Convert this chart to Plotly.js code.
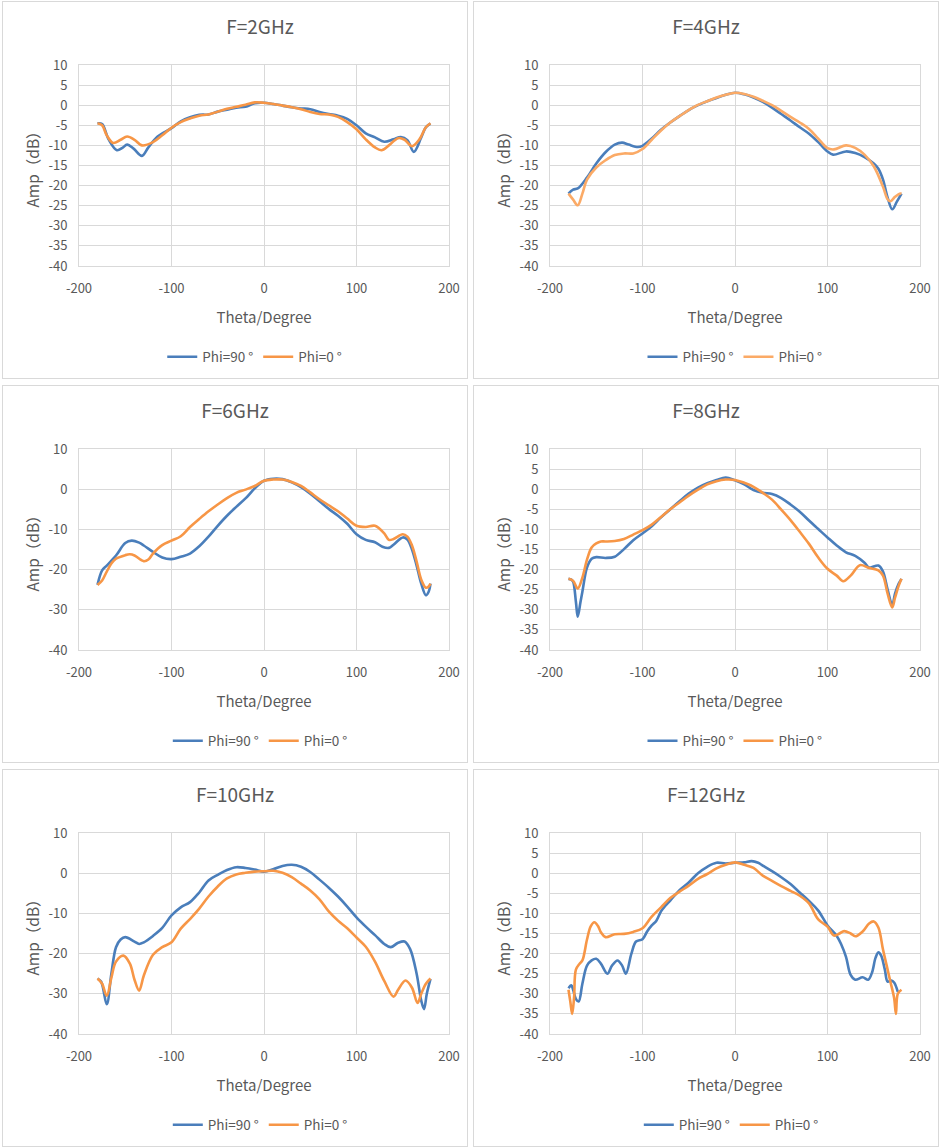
<!DOCTYPE html>
<html>
<head>
<meta charset="utf-8">
<script src="https://cdn.plot.ly/plotly-3.0.1.min.js"></script>
<style>
  body { margin: 0; background: #fff; width: 941px; height: 1148px; position: relative; }
  .panel { position: absolute; width: 466px; height: 378px; box-sizing: border-box; border: 1px solid #d9d9d9; }
</style>
</head>
<body>
<div id="p2" class="panel" style="left:2px;top:1px"></div>
<div id="p4" class="panel" style="left:473px;top:1px"></div>
<div id="p6" class="panel" style="left:2px;top:385px"></div>
<div id="p8" class="panel" style="left:473px;top:385px"></div>
<div id="p10" class="panel" style="left:2px;top:769px"></div>
<div id="p12" class="panel" style="left:473px;top:769px"></div>
<script>
// --- data (theta in degrees, amplitude in dB) ---
var theta2_90 = [-180,-175,-168,-159,-153,-148,-141,-132,-125,-115,-100,-90,-80,-70,-60,-50,-40,-30,-20,-10,0,10,20,30,40,50,60,70,80,90,100,110,120,130,140,148,155,162,170,175,180];
var amp2_90   = [-4.5,-4.7,-8.5,-11.2,-10.6,-9.8,-10.8,-12.6,-10.5,-7.8,-5.7,-4.0,-3.0,-2.4,-2.3,-1.6,-1.1,-0.6,-0.4,0.5,0.6,0.3,-0.1,-0.5,-0.8,-1.0,-1.7,-2.2,-2.6,-3.4,-5.0,-7.0,-8.0,-9.1,-8.5,-7.9,-8.7,-11.6,-8.0,-5.5,-4.6];
var theta2_0  = [-180,-175,-170,-163,-155,-148,-140,-132,-120,-110,-100,-90,-80,-70,-60,-50,-40,-30,-20,-10,0,10,20,30,40,50,60,70,80,90,100,110,120,127,135,145,152,160,168,175,180];
var amp2_0    = [-4.5,-5.0,-7.5,-9.4,-8.6,-7.8,-8.6,-10.0,-9.2,-7.5,-5.6,-4.2,-3.3,-2.6,-2.3,-1.6,-0.9,-0.4,0.1,0.7,0.6,0.3,-0.1,-0.5,-1.0,-1.7,-2.2,-2.3,-2.9,-4.2,-6.0,-8.5,-10.5,-11.2,-10.0,-8.2,-8.6,-10.2,-8.5,-5.5,-4.5];

var theta4_90 = [-180,-175,-170,-160,-150,-140,-130,-122,-115,-105,-100,-90,-80,-70,-60,-50,-40,-30,-20,-10,0,10,20,30,40,50,60,70,80,90,100,106,120,130,140,150,155,160,165,170,175,180];
var amp4_90   = [-22,-21,-20.7,-18,-14.5,-11.7,-9.8,-9.3,-9.8,-10.4,-10.1,-8.3,-6.1,-4.3,-2.7,-1.2,0,1.0,1.8,2.6,3.1,2.7,1.9,0.8,-0.6,-2.2,-3.8,-5.5,-7.1,-9.2,-11.5,-12.3,-11.5,-11.9,-12.9,-14.5,-15.8,-18.5,-23,-25.9,-24,-22];
var theta4_0  = [-180,-175,-170,-165,-160,-150,-140,-130,-120,-110,-100,-90,-80,-70,-60,-50,-40,-30,-20,-10,0,10,20,30,40,50,60,70,80,90,100,107,120,130,140,150,160,165,168,173,178,180];
var amp4_0    = [-22,-23.5,-24.9,-22,-18.5,-15.5,-13.7,-12.4,-12.0,-12.0,-10.9,-8.6,-6.3,-4.3,-2.7,-1.2,0.1,1.0,1.9,2.6,3.1,2.8,2.1,1.1,0,-1.4,-2.9,-4.3,-5.9,-8.3,-10.7,-11,-10,-10.6,-12.3,-15.2,-20.3,-23.4,-23.9,-22.8,-22,-22];

var theta6_90 = [-180,-175,-170,-160,-150,-143,-135,-130,-120,-110,-100,-90,-80,-70,-60,-50,-40,-30,-20,-10,0,10,20,30,40,50,60,70,80,90,100,110,120,128,135,140,150,155,160,165,170,175,178,180];
var amp6_90   = [-23.8,-20.2,-19,-16.5,-13.4,-12.8,-13.3,-14,-15.6,-17,-17.4,-16.8,-16,-14.2,-11.8,-9.1,-6.6,-4.4,-2.3,0.2,2.1,2.6,2.5,1.7,0.5,-1.1,-3,-4.9,-6.6,-8.6,-11.2,-12.6,-13.2,-14.3,-14.6,-13.8,-12,-12.5,-15,-19,-23.5,-26.4,-25.5,-23.5];
var theta6_0  = [-180,-175,-170,-165,-160,-150,-145,-140,-130,-125,-120,-110,-100,-90,-80,-70,-60,-50,-40,-30,-20,-10,0,10,20,30,40,50,60,70,80,90,100,110,120,130,135,140,150,155,160,165,170,175,178,180];
var amp6_0    = [-23.8,-22.7,-20.5,-18.5,-17.3,-16.4,-16.2,-16.5,-17.9,-17.5,-16,-13.9,-12.8,-11.7,-9.4,-7.4,-5.5,-3.8,-2.2,-0.9,-0.1,0.8,2.1,2.4,2.4,1.8,0.8,-0.8,-2.5,-4,-5.5,-7.3,-9.1,-9.4,-9.1,-11,-12.6,-12.4,-11.2,-11.8,-14,-18,-22.5,-24.5,-24.2,-23.5];

var theta8_90 = [-180,-177,-175,-172,-170,-167,-165,-160,-155,-150,-140,-130,-120,-110,-100,-90,-80,-70,-60,-50,-40,-30,-20,-10,0,10,20,30,40,50,60,70,80,90,100,110,120,130,140,145,155,160,165,170,173,177,180];
var amp8_90   = [-22.3,-22.5,-23,-28,-31.7,-28,-25.5,-19.5,-17.3,-16.9,-17.1,-16.8,-14.9,-12.7,-11,-9.2,-7,-5,-3,-1.1,0.4,1.5,2.3,2.9,2.2,1.2,-0.2,-0.9,-1.2,-2.2,-3.8,-5.6,-7.8,-9.9,-12,-14,-15.7,-16.6,-18.3,-19.5,-19,-20.5,-25,-28.8,-26,-23.5,-22.3];
var theta8_0  = [-180,-175,-170,-165,-160,-155,-150,-145,-140,-130,-120,-110,-100,-90,-80,-70,-60,-50,-40,-30,-20,-10,0,10,20,30,40,50,60,70,80,90,100,110,117,125,135,145,155,160,165,170,173,177,180];
var amp8_0    = [-22.3,-22.8,-24.7,-22,-17.5,-14.5,-13.5,-13,-13,-12.9,-12.4,-11.3,-10.2,-8.8,-6.9,-5,-3.3,-1.6,-0.1,1.2,2,2.4,2.3,1.6,0.6,-0.9,-2.6,-5.1,-7.7,-10.6,-13.6,-17,-19.8,-21.5,-22.9,-21.5,-18.9,-19.6,-20.2,-21.5,-26,-29.4,-27,-24,-22.3];

var theta10_90 = [-180,-176,-170,-165,-160,-155,-150,-140,-135,-130,-120,-110,-100,-90,-80,-70,-60,-50,-40,-30,-20,-10,0,10,20,30,40,50,60,70,80,90,100,110,120,130,137,145,152,158,165,170,173,176,180];
var amp10_90   = [-26.2,-27,-32.6,-25,-18.4,-16.5,-15.9,-17,-17.6,-17.2,-15.6,-13.6,-10.5,-8.5,-7.2,-4.8,-1.8,-0.4,0.8,1.5,1.3,0.9,0.4,1,1.8,2.1,1.6,0.3,-1.6,-3.6,-5.8,-8.3,-11,-13.3,-15.4,-17.6,-18.4,-17.3,-17,-18.9,-25,-31.7,-33.8,-30,-26.3];
var theta10_0  = [-180,-175,-170,-165,-160,-152,-145,-140,-135,-130,-120,-110,-100,-90,-80,-70,-60,-50,-40,-30,-20,-10,0,10,20,30,40,50,60,70,80,90,100,110,120,130,140,145,153,160,166,170,175,180];
var amp10_0    = [-26.2,-27.5,-30.5,-26,-22,-20.5,-22.5,-26.5,-29.2,-25.5,-20.3,-18.4,-17.2,-13.8,-11.4,-8.8,-5.8,-3.3,-1.3,-0.3,0.1,0.4,0.5,0.6,0.1,-1,-2.6,-4.3,-6.5,-9.5,-11.8,-13.7,-16,-18.3,-22,-26.8,-30.7,-29,-26.7,-28.5,-32.3,-30,-27.5,-26.2];

var theta12_90 = [-180,-177,-175,-172,-169,-165,-160,-155,-150,-145,-138,-133,-127,-122,-118,-112,-107,-100,-95,-90,-85,-80,-75,-70,-60,-50,-40,-30,-20,-10,0,10,18,25,30,40,50,60,70,80,90,100,110,115,120,125,130,138,144,148,152,155,158,162,165,169,172,176];
var amp12_90   = [-28.6,-27.9,-29,-31.3,-31.9,-27.5,-23,-21.7,-21.3,-22.5,-25,-23,-21.7,-23,-25,-20,-17,-16.4,-14.5,-13,-11.8,-9.5,-8,-6.8,-4.2,-2.3,0,1.6,2.6,2.4,2.6,2.7,3.0,2.6,1.9,0.5,-1,-2.7,-4.8,-6.9,-9.3,-13,-15.6,-17.8,-20.8,-25.3,-26.5,-25.9,-26.5,-24.8,-21,-19.7,-20.5,-24,-27,-26.7,-27.2,-29.5];
var theta12_0  = [-180,-178,-176,-174,-172,-168,-165,-160,-156,-152,-148,-145,-140,-130,-120,-110,-100,-90,-80,-70,-60,-50,-40,-30,-20,-10,0,10,20,30,40,50,60,70,80,90,100,107,113,118,125,130,138,145,150,155,160,164,168,172,174,176,180];
var amp12_0    = [-29,-32,-35,-31,-24,-22.5,-21.7,-16.5,-13.2,-12.2,-13.2,-14.7,-15.9,-15.2,-15.1,-14.6,-13.7,-10.8,-8.5,-6.2,-4.6,-3.1,-1.4,-0.2,1.2,2.1,2.7,2.1,1.3,-0.6,-1.9,-3.2,-4.4,-5.6,-7.5,-11.5,-13.3,-15.5,-15,-14.4,-15,-15.7,-14.5,-12.5,-12,-13.5,-19,-23,-27,-31,-35,-30,-29];

// tick labels, written with a plain hyphen as in the original
var xTickVals = [-200, -100, 0, 100, 200];
var xTickText = ['-200', '-100', '0', '100', '200'];
var yTickVals5 = [-40, -35, -30, -25, -20, -15, -10, -5, 0, 5, 10];
var yTickText5 = ['-40', '-35', '-30', '-25', '-20', '-15', '-10', '-5', '0', '5', '10'];
var yTickVals10 = [-40, -30, -20, -10, 0, 10];
var yTickText10 = ['-40', '-30', '-20', '-10', '0', '10'];

var seriesNames = ['Phi=90 °', 'Phi=0 °'];
var blue = '#4a7ebb';
var orange = '#f79646';

var FONT = '"Noto Sans CJK SC", "Noto Sans", sans-serif';
var TEXT = '#595959';
var GRID = '#d9d9d9';

function drawPanel(divId, title, t90, a90, t0, a0, tickVals, tickText, orangeColor, titleX, legendX) {
  var traces = [
    { x: t90, y: a90, type: 'scatter', mode: 'lines', name: seriesNames[0],
      line: { color: blue, width: 2.6, shape: 'spline', smoothing: 1 } },
    { x: t0, y: a0, type: 'scatter', mode: 'lines', name: seriesNames[1],
      line: { color: orangeColor, width: 2.6, shape: 'spline', smoothing: 1 } }
  ];

  var axisBase = {
    showgrid: true, gridcolor: GRID, gridwidth: 1,
    zeroline: false, showline: true, linecolor: GRID, linewidth: 1, mirror: true,
    ticks: '', tickfont: { size: 13, color: TEXT }, fixedrange: true, automargin: false
  };

  var layout = {
    width: 464, height: 376,
    margin: { l: 76, r: 18, t: 63, b: 112 },
    paper_bgcolor: '#fff', plot_bgcolor: '#fff',
    font: { family: FONT, color: TEXT, size: 12 },
    title: { text: title, font: { size: 19, color: TEXT },
             x: titleX, xref: 'container', xanchor: 'center',
             y: 1 - 25 / 376, yref: 'container', yanchor: 'middle' },
    xaxis: Object.assign({}, axisBase, {
      range: [-200, 200], tickmode: 'array', tickvals: xTickVals, ticktext: xTickText,
      ticklabelstandoff: 10,
      title: { text: 'Theta/Degree', font: { size: 15, color: TEXT }, standoff: 16 }
    }),
    yaxis: Object.assign({}, axisBase, {
      range: [-40, 10], tickmode: 'array', tickvals: tickVals, ticktext: tickText,
      ticklabelstandoff: 8,
      title: { text: 'Amp（dB）', font: { size: 15.5, color: TEXT }, standoff: 5 }
    }),
    showlegend: true,
    legend: { orientation: 'h', x: legendX, xanchor: 'center',
              yref: 'container', y: 1 - 355 / 376, yanchor: 'middle',
              font: { size: 13.5, color: TEXT }, bgcolor: 'rgba(0,0,0,0)' },
    hovermode: false
  };

  Plotly.newPlot(divId, traces, layout, { displayModeBar: false, staticPlot: true });
}

drawPanel('p2', 'F=2GHz', theta2_90, amp2_90, theta2_0, amp2_0, yTickVals5, yTickText5, orange, 0.554, 0.475);
drawPanel('p4', 'F=4GHz', theta4_90, amp4_90, theta4_0, amp4_0, yTickVals5, yTickText5, '#fbaa66', 0.5, 0.5);
drawPanel('p6', 'F=6GHz', theta6_90, amp6_90, theta6_0, amp6_0, yTickVals10, yTickText10, orange, 0.5, 0.49);
drawPanel('p8', 'F=8GHz', theta8_90, amp8_90, theta8_0, amp8_0, yTickVals5, yTickText5, orange, 0.5, 0.5);
drawPanel('p10', 'F=10GHz', theta10_90, amp10_90, theta10_0, amp10_0, yTickVals10, yTickText10, orange, 0.5, 0.49);
drawPanel('p12', 'F=12GHz', theta12_90, amp12_90, theta12_0, amp12_0, yTickVals5, yTickText5, orange, 0.5, 0.49);
</script>
</body>
</html>
